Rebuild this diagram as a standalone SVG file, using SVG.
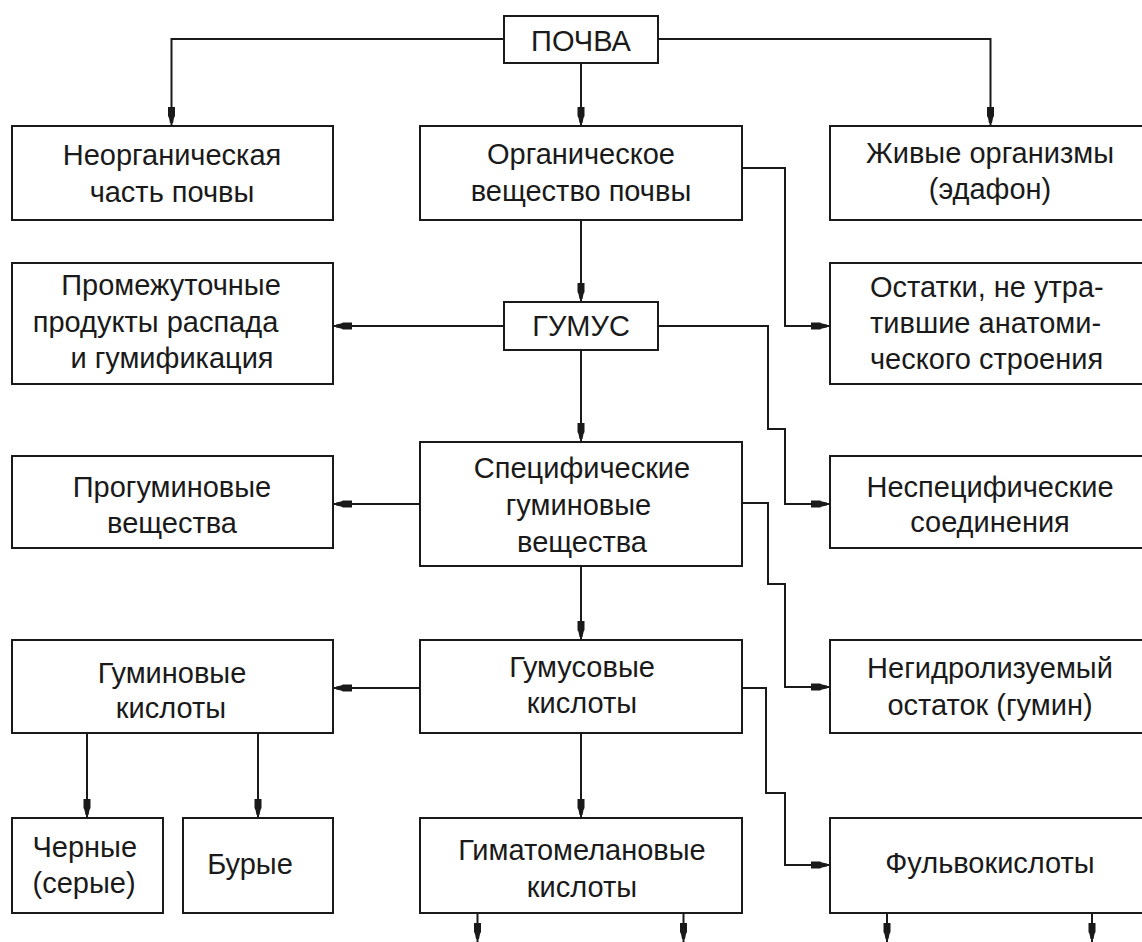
<svg xmlns="http://www.w3.org/2000/svg" width="1142" height="942" viewBox="0 0 1142 942">
<style>
.box{fill:#fff;stroke:#1a1a1a;stroke-width:2}
.t{font-family:"Liberation Sans",Arial,sans-serif;font-size:29px;fill:#1a1a1a;text-anchor:middle}
.l{text-anchor:start}
.c{fill:none;stroke:#1a1a1a;stroke-width:2;marker-end:url(#ah)}
</style>
<defs>
<marker id="ah" markerUnits="userSpaceOnUse" markerWidth="22" markerHeight="10" viewBox="0 -5 22 10" refX="19" refY="0" orient="auto">
<path d="M0,-3.5 L9,-3.5 L11,-2.5 L16,-1.5 L16,1.5 L11,2.5 L9,3.5 L0,3.5 Z" fill="#1a1a1a"/>
</marker>
</defs>
<rect width="1142" height="942" fill="#fff"/>
<g id="connectors">
<path class="c" d="M505,39 H171.5 V126"/>
<path class="c" d="M581,63 V126"/>
<path class="c" d="M657,39 H990.5 V126"/>
<path class="c" d="M737,168 H785 V326 H830"/>
<path class="c" d="M581,220 V302"/>
<path class="c" d="M507,326 H333"/>
<path class="c" d="M657,326 H768 V429 H785 V504 H830"/>
<path class="c" d="M581,350 V442"/>
<path class="c" d="M420,504 H333"/>
<path class="c" d="M739,503 H768 V584 H785 V687 H830"/>
<path class="c" d="M581,566 V640"/>
<path class="c" d="M420,688 H333"/>
<path class="c" d="M742,688 H766 V793 H785 V865 H830"/>
<path class="c" d="M581,733 V818"/>
<path class="c" d="M87,733 V818"/>
<path class="c" d="M258,733 V818"/>
<path class="c" d="M477.5,913 V942"/>
<path class="c" d="M683.5,913 V942"/>
<path class="c" d="M887,913 V942"/>
<path class="c" d="M1092,913 V942"/>
</g>
<g id="pochva"><rect class="box" x="504" y="16" width="154" height="47"/><text class="t" x="581" y="51">ПОЧВА</text></g>
<g id="neorg"><rect class="box" x="12" y="126" width="321" height="94"/><text class="t" x="172" y="165">Неорганическая</text><text class="t" x="172" y="202">часть почвы</text></g>
<g id="org"><rect class="box" x="420" y="126" width="322" height="94"/><text class="t" x="581" y="164">Органическое</text><text class="t" x="581" y="201">вещество почвы</text></g>
<g id="zhivye"><rect class="box" x="830" y="126" width="320" height="94"/><text class="t" x="990" y="163">Живые организмы</text><text class="t" x="990" y="199">(эдафон)</text></g>
<g id="prom"><rect class="box" x="12" y="263" width="321" height="121"/><text class="t" x="171" y="295">Промежуточные</text><text class="t" x="155.5" y="332">продукты распада</text><text class="t" x="172" y="368">и гумификация</text></g>
<g id="gumus"><rect class="box" x="504" y="302" width="154" height="48"/><text class="t" x="581" y="336">ГУМУС</text></g>
<g id="ostatki"><rect class="box" x="830" y="263" width="320" height="121"/><text class="t l" x="870" y="297">Остатки, не утра-</text><text class="t l" x="870" y="333">тившие анатоми-</text><text class="t l" x="870" y="369">ческого строения</text></g>
<g id="progum"><rect class="box" x="12" y="456" width="321" height="92"/><text class="t" x="172" y="497">Прогуминовые</text><text class="t" x="172" y="533">вещества</text></g>
<g id="spec"><rect class="box" x="420" y="442" width="322" height="124"/><text class="t" x="582" y="478">Специфические</text><text class="t" x="578.5" y="515">гуминовые</text><text class="t" x="582" y="552">вещества</text></g>
<g id="nespec"><rect class="box" x="830" y="456" width="320" height="92"/><text class="t" x="990" y="497">Неспецифические</text><text class="t" x="990" y="532">соединения</text></g>
<g id="guminovye"><rect class="box" x="12" y="640" width="321" height="93"/><text class="t" x="172" y="683">Гуминовые</text><text class="t" x="171" y="718">кислоты</text></g>
<g id="gumusovye"><rect class="box" x="420" y="640" width="322" height="93"/><text class="t" x="582" y="677">Гумусовые</text><text class="t" x="582" y="713">кислоты</text></g>
<g id="negidr"><rect class="box" x="830" y="640" width="320" height="93"/><text class="t" x="990" y="678">Негидролизуемый</text><text class="t" x="990" y="715">остаток (гумин)</text></g>
<g id="chernye"><rect class="box" x="12" y="818" width="151" height="95"/><text class="t l" x="32.5" y="857">Черные</text><text class="t l" x="32.5" y="893">(серые)</text></g>
<g id="burye"><rect class="box" x="183" y="818" width="150" height="95"/><text class="t" x="250" y="874">Бурые</text></g>
<g id="gimato"><rect class="box" x="420" y="818" width="322" height="95"/><text class="t" x="582" y="860">Гиматомелановые</text><text class="t" x="582" y="897">кислоты</text></g>
<g id="fulvo"><rect class="box" x="830" y="818" width="320" height="95"/><text class="t" x="990" y="873">Фульвокислоты</text></g>
</svg>
